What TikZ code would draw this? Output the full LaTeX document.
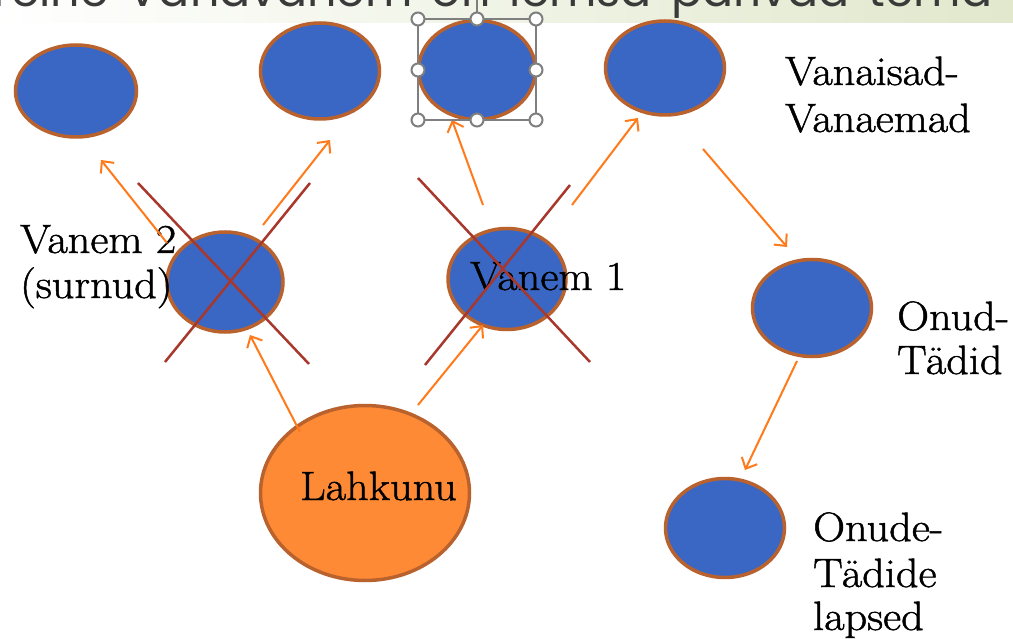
\documentclass[tikz,border=0pt]{standalone}
\usepackage{fontspec}
\setmainfont{Latin Modern Roman}[FakeStretch=1.08, FakeBold=1.2]
\newfontfamily\titlefont{Poppins}
\usetikzlibrary{shapes.geometric,arrows.meta}
\definecolor{nodeblue}{HTML}{3A67C3}
\definecolor{rim}{HTML}{B9622E}
\definecolor{deceased}{HTML}{FF8A35}
\definecolor{arr}{HTML}{FF7A1A}
\definecolor{crossred}{HTML}{A8372C}
\definecolor{selgray}{HTML}{7F7F7F}
\definecolor{titlegreen}{HTML}{E1E8CC}
\definecolor{titlegray}{HTML}{3A3A3A}
\begin{document}
\begin{tikzpicture}[x=1pt,y=-1pt,
  person/.style={ellipse, draw=rim, line width=3.5pt, fill=nodeblue, inner sep=0pt},
  lbl/.style={anchor=base west, inner sep=0pt, font=\fontsize{41}{48}\selectfont},
  link/.style={draw=arr, line width=2pt, -{Straight Barb[length=9pt,width=17pt,line width=2pt]}},
  strike/.style={draw=crossred, line width=2.5pt},
  handle/.style={circle, draw=selgray, fill=white, line width=2pt, minimum size=13pt, inner sep=0pt}]
\useasboundingbox (0,0) rectangle (1013,639);
\fill[white] (0,0) rectangle (1013,639);
\begin{scope}
\clip (0,0) rectangle (1013,639);
\shade[left color=white, right color=titlegreen] (0,0) rectangle (1013,23);
\node[anchor=base west, inner sep=0pt, text=titlegray, font=\titlefont\fontsize{46}{54}\selectfont] (title) at (-14,7) {\spaceskip=19pt\relax Teine Vanavanem on lemsa pärivad tema};
\end{scope}

% grandparents
\node[person, minimum width=121pt, minimum height=92pt] (gp1) at (76,91) {};
\node[person, minimum width=119pt, minimum height=96pt] (gp2) at (320,71) {};
\node[person, minimum width=117pt, minimum height=99pt] (gp3) at (477,70) {};
\node[person, minimum width=119pt, minimum height=94pt] (gp4) at (665,68) {};
% parents
\node[person, minimum width=116pt, minimum height=100pt] (p2) at (225,282) {};
\node[person, minimum width=118pt, minimum height=101pt] (p1) at (507,279) {};
% aunts/uncles and cousins
\node[person, minimum width=119pt, minimum height=97pt] (au) at (812,308) {};
\node[person, minimum width=119pt, minimum height=99pt] (cou) at (725,528) {};
% deceased
\node[person, fill=deceased, minimum width=209pt, minimum height=175pt] (dec) at (365,493) {};

% labels
\node[lbl] (lgp1) at (785,85) {Vanaisad-};
\node[lbl] (lgp2) at (785,132) {Vanaemad};
\node[lbl] (lp2a) at (20,253) {Vanem 2};
\node[lbl] (lp2b) at (20,298) {(surnud)};
\node[lbl] (lp1) at (470,290) {Vanem 1};
\node[lbl] (lau1) at (897,330) {Onud-};
\node[lbl] (lau2) at (897,374) {Tädid};
\node[lbl] (lcou1) at (813,541) {Onude-};
\node[lbl] (lcou2) at (813,587) {Tädide};
\node[lbl] (lcou3) at (813,630) {lapsed};
\node[lbl] (ldec) at (300,500) {Lahkunu};

% arrow end points
\coordinate (a1s) at (167,243); \coordinate (a1e) at (101,160);
\coordinate (a2s) at (263,225); \coordinate (a2e) at (330,140);
\coordinate (a3s) at (483,205); \coordinate (a3e) at (452,120);
\coordinate (a4s) at (572,205); \coordinate (a4e) at (638,118);
\coordinate (a5s) at (703,149); \coordinate (a5e) at (787,247);
\coordinate (a6s) at (797,361); \coordinate (a6e) at (745,470);
\coordinate (a7s) at (300,432); \coordinate (a7e) at (250,335);
\coordinate (a8s) at (418,405); \coordinate (a8e) at (483,325);

\draw[link] (a1s) -- (a1e);
\draw[link] (a2s) -- (a2e);
\draw[link] (a3s) -- (a3e);
\draw[link] (a4s) -- (a4e);
\draw[link] (a5s) -- (a5e);
\draw[link] (a6s) -- (a6e);
\draw[link] (a7s) -- (a7e);
\draw[link] (a8s) -- (a8e);

% crosses
\coordinate (c2a1) at (138,183); \coordinate (c2a2) at (309,364);
\coordinate (c2b1) at (165,362); \coordinate (c2b2) at (310,183);
\coordinate (c1a1) at (418,178); \coordinate (c1a2) at (590,362);
\coordinate (c1b1) at (425,365); \coordinate (c1b2) at (570,185);
\draw[strike] (c2a1) -- (c2a2);
\draw[strike] (c2b1) -- (c2b2);
\draw[strike] (c1a1) -- (c1a2);
\draw[strike] (c1b1) -- (c1b2);

% selection frame
\coordinate (rot) at (477,0);
\draw[selgray, line width=1.2pt] (418,19) rectangle (536,120);
\draw[selgray, line width=1.2pt] (rot) -- (477,19);
\node[handle] (h1) at (418,19) {};
\node[handle] (h2) at (477,19) {};
\node[handle] (h3) at (536,19) {};
\node[handle] (h4) at (418,70) {};
\node[handle] (h5) at (536,70) {};
\node[handle] (h6) at (418,120) {};
\node[handle] (h7) at (477,120) {};
\node[handle] (h8) at (536,120) {};
\end{tikzpicture}
\end{document}
